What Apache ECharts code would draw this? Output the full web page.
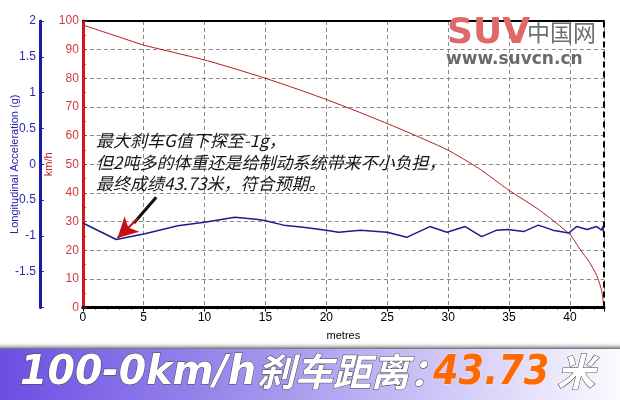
<!DOCTYPE html>
<html>
<head>
<meta charset="utf-8">
<script src="https://cdn.jsdelivr.net/npm/echarts@6/dist/echarts.min.js"></script>
<style>html,body{margin:0;padding:0;background:#fff;}#c{width:620px;height:400px;}</style>
</head>
<body>
<div id="c"></div>
<script>
// distance (metres) and speed (km/h)
const speedDist = [0, 2.5, 5, 7.5, 10, 12.5, 15, 17.5, 20, 22.5, 25, 27.5, 30, 32.5, 35, 37.5, 40, 40.8, 41.6, 42.2, 42.6, 42.75, 42.8];
const speedKmh  = [98.6, 95.1, 91.6, 89.0, 86.4, 83.3, 80.0, 76.4, 72.6, 68.5, 64.2, 59.7, 54.9, 48.6, 40.9, 34.0, 25.5, 20.5, 15.8, 11.2, 6.1, 1.5, 0];
// distance (metres) and longitudinal acceleration (g)
const accelDist = [0, 2.75, 5.1, 7.8, 10, 12.5, 14.4, 15, 16.5, 18.1, 20, 21, 22.8, 25, 26.6, 28.5, 29.9, 31.4, 32.75, 34.0, 34.9, 36.2, 37.4, 38.6, 39.9, 40.55, 41.4, 42.2, 42.6, 42.7, 42.8];
const accelG    = [-0.82, -1.05, -0.97, -0.86, -0.81, -0.74, -0.77, -0.79, -0.85, -0.88, -0.92, -0.95, -0.92, -0.95, -1.02, -0.87, -0.95, -0.87, -1.01, -0.92, -0.91, -0.94, -0.85, -0.92, -0.96, -0.87, -0.91, -0.87, -0.92, -0.87, -0.98];
const xMax = 42.8;
const annotationLines = ['最大刹车G值下探至-1g，', '但2吨多的体重还是给制动系统带来不小负担，', '最终成绩43.73米，符合预期。'];
const bannerLatin = '100-0km/h';
const bannerCJK = '刹车距离：';
const bannerValue = '43.73';
const bannerUnit = '米';

const speedData = speedDist.map((d, i) => [d, speedKmh[i]]);
const accelData = accelDist.map((d, i) => [d, accelG[i]]);

const measureCtx = document.createElement('canvas').getContext('2d');
const latinFont = 'italic bold 40px "DejaVu Sans"';
const cjkFont = 'italic bold 38px "Noto Sans CJK SC"';
measureCtx.font = latinFont;
const latinW = measureCtx.measureText(bannerLatin).width;
const latinScale = Math.min(1, 236 / latinW);

const chart = echarts.init(document.getElementById('c'), null, {renderer: 'canvas'});
const FONT = '"Liberation Sans", Arial, sans-serif';
const bannerShadow = {stroke: '#444', lineWidth: 1, shadowColor: 'rgba(0,0,0,0.75)', shadowBlur: 3, shadowOffsetX: 2, shadowOffsetY: 2};
chart.setOption({
  animation: false,
  backgroundColor: '#fff',
  grid: {left: 82.8, right: 16, top: 21, bottom: 92.5, containLabel: false, outerBoundsMode: 'none'},
  xAxis: [{
    type: 'value', min: 0, max: xMax, interval: 5, position: 'bottom',
    name: 'metres', nameLocation: 'middle', nameGap: 23, nameMoveOverlap: false,
    nameTextStyle: {color: '#000', fontSize: 11, fontFamily: FONT},
    axisLine: {show: true, onZero: false, lineStyle: {color: '#000', width: 3}},
    axisTick: {show: true, length: 4, lineStyle: {color: '#000'}},
    minorTick: {show: true, splitNumber: 5, length: 2, lineStyle: {color: '#000'}},
    axisLabel: {color: '#000', fontSize: 12, fontFamily: FONT, margin: 4, showMaxLabel: false},
    splitLine: {show: true, lineStyle: {color: '#888', type: [4, 3], width: 1}}
  }, {
    type: 'value', min: 0, max: xMax, position: 'top',
    axisLine: {show: true, onZero: false, lineStyle: {color: '#000', width: 2}},
    axisTick: {show: false}, axisLabel: {show: false}, splitLine: {show: false}
  }],
  yAxis: [{
    type: 'value', min: -2, max: 2, interval: 0.5, position: 'left', offset: 43,
    name: 'Longitudinal Acceleration (g)', nameLocation: 'middle', nameGap: 19, nameMoveOverlap: false,
    nameTextStyle: {color: '#2323a8', fontSize: 11, fontFamily: FONT},
    axisLine: {show: true, onZero: false, lineStyle: {color: '#1a1aa0', width: 3}},
    axisTick: {show: true, inside: true, length: 4, lineStyle: {color: '#1a1aa0'}},
    minorTick: {show: true, splitNumber: 5, length: 2, lineStyle: {color: '#1a1aa0'}},
    axisLabel: {color: '#2a2ab0', fontSize: 12, fontFamily: FONT, margin: 4, showMinLabel: false},
    splitLine: {show: false}
  }, {
    type: 'value', min: 0, max: 100, interval: 10, position: 'left', offset: 0,
    name: 'km/h', nameLocation: 'middle', nameGap: 28, nameMoveOverlap: false,
    nameTextStyle: {color: '#c02020', fontSize: 11, fontFamily: FONT},
    axisLine: {show: true, onZero: false, lineStyle: {color: '#d01818', width: 3}},
    axisTick: {show: true, inside: true, length: 4, lineStyle: {color: '#d01818'}},
    minorTick: {show: true, splitNumber: 2, length: 3, lineStyle: {color: '#d01818'}},
    axisLabel: {color: '#d03a3a', fontSize: 12, fontFamily: FONT, margin: 4},
    splitLine: {show: true, lineStyle: {color: '#888', type: [4, 3], width: 1}}
  }],
  series: [{
    type: 'line', xAxisIndex: 0, yAxisIndex: 1, data: speedData,
    showSymbol: false, smooth: 0.2, z: 3,
    lineStyle: {color: '#b01c1c', width: 1},
    markLine: {
      silent: true, symbol: 'none', label: {show: false},
      lineStyle: {color: '#000', type: [6, 4], width: 2},
      data: [{xAxis: xMax}]
    }
  }, {
    type: 'line', xAxisIndex: 0, yAxisIndex: 0, data: accelData,
    showSymbol: false, z: 4,
    lineStyle: {color: '#1c1c8c', width: 1.5},
    markLine: {
      silent: true, label: {show: false}, animation: false,
      data: [
        [{coord: [6.03, -0.46], symbol: 'none', lineStyle: {color: '#111', width: 3, type: 'solid'}},
         {coord: [4.2, -0.82], symbol: 'none'}],
        [{coord: [4.5, -0.76], symbol: 'none', lineStyle: {color: '#c41010', width: 2, type: 'solid'}},
         {coord: [2.85, -1.03], symbol: 'arrow', symbolSize: [16, 20]}]
      ]
    }
  }],
  graphic: [
    // logo
    {type: 'text', left: 447, top: 16, z: 10, style: {text: 'SUV', font: 'bold 36px "DejaVu Sans"', fill: '#e06868'}},
    {type: 'text', left: 527, top: 21, z: 10, style: {text: '中国网', font: '23px "Noto Sans CJK SC"', fill: '#6e6e6e'}},
    {type: 'text', left: 446, top: 51, z: 10, style: {text: 'www.suvcn.cn', font: 'bold 17px "DejaVu Sans"', fill: '#6a6a6a'}},
    // annotation
    {type: 'text', left: 96, top: 130, z: 10, style: {
      text: annotationLines.join('\n'), font: 'italic 17px "Noto Sans CJK SC"', lineHeight: 21.5,
      fill: '#151515', shadowColor: 'rgba(255,255,140,1)', shadowBlur: 8
    }},
    // bottom banner
    {type: 'rect', left: 0, top: 342, z: 20, shape: {width: 620, height: 8},
      style: {fill: new echarts.graphic.LinearGradient(0, 0, 0, 1, [{offset: 0, color: 'rgba(255,255,255,0)'}, {offset: 1, color: '#3a3a3a'}])}},
    {type: 'rect', left: 0, top: 349, z: 20, shape: {width: 620, height: 51},
      style: {fill: new echarts.graphic.LinearGradient(0, 0, 1, 0, [{offset: 0, color: '#6b4fe4'}, {offset: 0.45, color: '#a797ee'}, {offset: 1, color: '#fbfbff'}])}},
    {type: 'text', x: 20, y: 374, scaleX: latinScale, z: 21, style: Object.assign({
      text: bannerLatin, font: latinFont, fill: '#fff', verticalAlign: 'middle'}, bannerShadow)},
    {type: 'text', x: 20 + latinW * latinScale + 1, y: 372, z: 21, style: Object.assign({
      text: bannerCJK, font: cjkFont, fill: '#fff', verticalAlign: 'middle'}, bannerShadow)},
    {type: 'text', x: 433, y: 374, scaleX: 0.92, z: 21, style: {
      text: bannerValue, font: latinFont, fill: '#ff6a00', verticalAlign: 'middle',
      stroke: '#fff', lineWidth: 0.5
    }},
    {type: 'text', x: 557, y: 372, z: 21, style: Object.assign({
      text: bannerUnit, font: cjkFont, fill: '#fff', verticalAlign: 'middle'}, bannerShadow)}
  ]
});
</script>
</body>
</html>
